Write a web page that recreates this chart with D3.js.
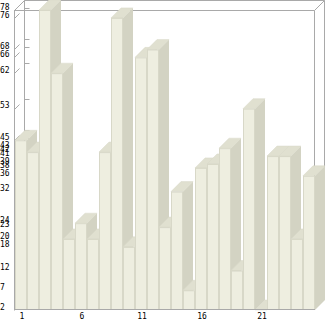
<!DOCTYPE html>
<html>
<head>
  <meta charset="utf-8">
  <title>3D bars</title>
  <script src="https://d3js.org/d3.v7.min.js"></script>
  <style>
    body { margin: 0; background: #fff; }
    text { font-family: "DejaVu Sans Mono", monospace; font-size: 8px; fill: #000; }
  </style>
</head>
<body>
  <div id="chart"></div>
  <script>
    // data
    var categories = ['1','2','3','4','5','6','7','8','9','10','11','12','13',
                      '14','15','16','17','18','19','20','21','22','23','24','25'];
    var values = [45, 42, 78, 62, 20, 24, 20, 42, 76, 18, 66, 68, 23,
                  32, 7, 38, 39, 43, 12, 53, 2, 41, 41, 20, 36];
    var xTickLabels = ['1', '6', '11', '16', '21'];
    var yTickValues = [78, 76, 68, 66, 62, 53, 45, 43, 42, 41, 39, 38, 36,
                       32, 24, 23, 20, 18, 12, 7, 2];

    var width = 326, height = 321;
    var margin = { top: 10, right: 11, bottom: 11, left: 15 };
    var depth = 10;   // 3d offset, right and up

    var x = d3.scaleBand()
      .domain(categories)
      .range([margin.left, width - margin.right]);
    var y = d3.scaleLinear()
      .domain([2, 78])
      .range([height - margin.bottom, margin.top]);

    var x0 = x.range()[0], x1 = x.range()[1];
    var yBase = y.range()[0], yTop = y.range()[1];

    var svg = d3.select('#chart').append('svg')
      .attr('width', width)
      .attr('height', height);

    var frame = '#a9a9a9';

    // back wall and box edges (behind the bars)
    var back = svg.append('g')
      .attr('stroke', frame)
      .attr('fill', 'none')
      .attr('stroke-width', 1);
    function line(g, ax, ay, bx, by) {
      g.append('line').attr('x1', ax).attr('y1', ay).attr('x2', bx).attr('y2', by);
    }
    line(back, x0 - 0.5 + depth, yTop - depth + 0.5, x1 - 0.5 + depth, yTop - depth + 0.5);
    line(back, x0 - 0.5 + depth, yTop - depth + 0.5, x0 - 0.5 + depth, yBase - depth);
    line(back, x1 - 0.5 + depth, yTop - depth + 0.5, x1 - 0.5 + depth, yBase - depth);
    line(back, x0 - 0.5, yTop + 0.5, x0 - 0.5 + depth, yTop - depth + 0.5);
    line(back, x1 - 0.5, yTop + 0.5, x1 - 0.5 + depth, yTop - depth + 0.5);
    line(back, x1 - 0.5, yBase - 0.5, x1 - 0.5 + depth, yBase - depth - 0.5);
    line(back, x0 - 0.5, yTop + 0.5, x1 - 0.5, yTop + 0.5);
    line(back, x1 - 0.5, yTop + 0.5, x1 - 0.5, yBase);

    // tick marks: diagonal on the side wall plus stub on the back wall
    yTickValues.forEach(function (v) {
      var yy = Math.round(y(v)) + 0.5;
      line(back, x0 - 0.5, yy, x0 + 4.5, yy - 5);
      line(back, x0 - 0.5 + depth, yy - depth, x0 + 4.5 + depth, yy - depth);
    });

    // bars, drawn left to right so each covers its left neighbour's side
    var w = x.bandwidth();
    var bars = svg.append('g').selectAll('g.bar')
      .data(values)
      .enter()
      .append('g')
        .attr('class', 'bar');

    bars.append('polygon')
      .attr('fill', '#d3d3c3')
      .attr('points', function (d, i) {
        var bx = x(categories[i]) + w, t = y(d);
        return [[bx, t], [bx + depth, t - depth], [bx + depth, yBase - depth], [bx, yBase]].join(' ');
      });
    bars.append('polygon')
      .attr('fill', '#e0e0d0')
      .attr('stroke', '#d8d8c8')
      .attr('stroke-width', 0.5)
      .attr('points', function (d, i) {
        var bx = x(categories[i]), t = y(d);
        return [[bx, t], [bx + w, t], [bx + w + depth, t - depth], [bx + depth, t - depth]].join(' ');
      });
    bars.append('rect')
      .attr('x', function (d, i) { return x(categories[i]) + 0.5; })
      .attr('y', function (d) { return y(d) + 0.5; })
      .attr('width', w - 1)
      .attr('height', function (d) { return Math.max(0, yBase - y(d) - 1); })
      .attr('fill', '#eeeee0')
      .attr('stroke', '#d8d8c8')
      .attr('stroke-width', 1);

    // front axis lines on top
    var front = svg.append('g').attr('stroke', frame).attr('fill', 'none');
    line(front, x0 - 0.5, yTop, x0 - 0.5, yBase);
    line(front, x0 - 1, yBase - 0.5, x1, yBase - 0.5);

    // y labels, left aligned
    svg.append('g').selectAll('text.ylab')
      .data(yTickValues)
      .enter()
      .append('text')
        .attr('class', 'ylab')
        .attr('x', 0)
        .attr('y', function (d) { return y(d) - 3; })
        .attr('dy', '0.35em')
        .text(function (d) { return d; });

    // x labels
    svg.append('g').selectAll('text.xlab')
      .data(xTickLabels)
      .enter()
      .append('text')
        .attr('class', 'xlab')
        .attr('x', function (d) { return x(d) + w / 2 + 1; })
        .attr('y', height - 2)
        .attr('text-anchor', 'middle')
        .text(function (d) { return d; });
  </script>
</body>
</html>
